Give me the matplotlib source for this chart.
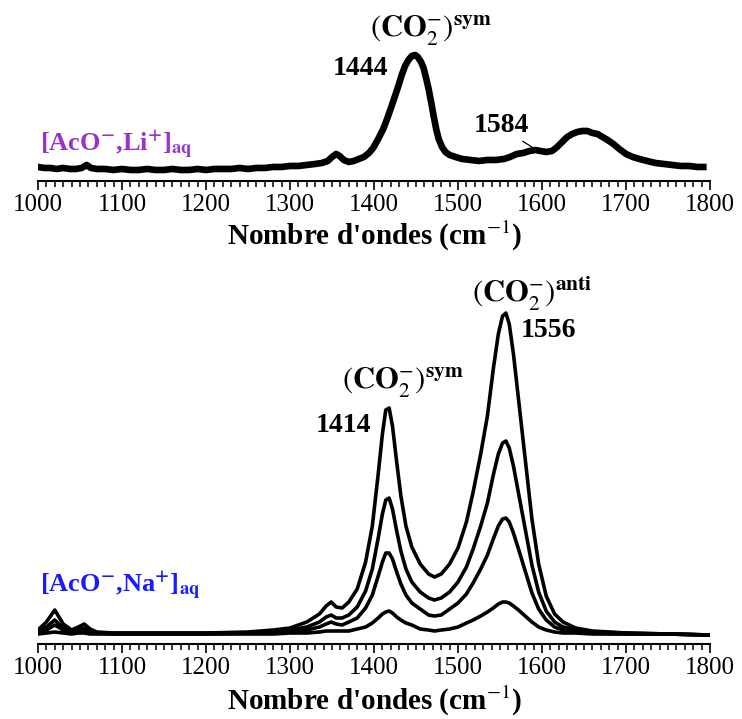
import matplotlib.pyplot as plt
from matplotlib.ticker import MultipleLocator

plt.rcParams['font.family'] = ['Liberation Serif', 'DejaVu Serif']
plt.rcParams['mathtext.fontset'] = 'stix'

# top panel: [AcO-,Li+]aq spectrum (arbitrary units)
li_wn = [1000, 1008, 1015, 1022, 1030, 1038, 1045, 1052, 1058, 1063, 1070, 1080,
         1090, 1100, 1110, 1120, 1130, 1140, 1150, 1160, 1170, 1180, 1190, 1200,
         1210, 1220, 1230, 1240, 1250, 1260, 1270, 1280, 1290, 1300, 1310, 1320,
         1330, 1338, 1345, 1350, 1355, 1359, 1364, 1370, 1376, 1382, 1388, 1394,
         1399, 1405, 1411, 1416, 1421, 1425, 1429, 1433, 1437, 1441, 1445, 1449,
         1452, 1456, 1459, 1462, 1465, 1468, 1471, 1474, 1477, 1481, 1485, 1490,
         1497, 1505, 1515, 1525, 1535, 1545, 1555, 1562, 1570, 1578, 1585, 1592,
         1598, 1605, 1612, 1618, 1624, 1630, 1636, 1642, 1648, 1654, 1660, 1666,
         1672, 1678, 1685, 1692, 1700, 1708, 1716, 1725, 1735, 1745, 1755, 1765,
         1775, 1785, 1792]
li_int = [14, 13, 13, 12, 13, 12, 12, 13, 16, 13, 12, 12,
          11, 12, 11, 11, 12, 11, 11, 12, 11, 11, 12, 11,
          12, 12, 12, 13, 12, 13, 13, 14, 14, 15, 15, 16,
          17, 18, 20, 24, 27, 25, 21, 19, 20, 22, 24, 28,
          33, 42, 52, 63, 75, 85, 95, 106, 115, 121, 125, 126,
          124, 119, 113, 103, 92, 79, 65, 52, 42, 34, 29, 26,
          24, 22, 21, 20, 21, 21, 22, 24, 27, 28, 30, 31,
          30, 29, 30, 34, 39, 44, 47, 49, 50, 50, 48, 47,
          44, 41, 37, 32, 27, 24, 22, 20, 18, 17, 16, 15,
          15, 14, 14]

# bottom panel: [AcO-,Na+]aq spectra, four concentrations
na_wn = [1000, 1010, 1020, 1030, 1040, 1048, 1055, 1062, 1070, 1090,
         1150, 1200, 1250, 1280, 1300, 1320, 1335, 1343, 1349, 1355,
         1362, 1370, 1380, 1390, 1398, 1405, 1410, 1414, 1418, 1422,
         1427, 1432, 1438, 1445, 1455, 1465, 1472, 1480, 1490, 1500,
         1510, 1518, 1527, 1535, 1542, 1548, 1553, 1557, 1561, 1566,
         1572, 1580, 1588, 1596, 1605, 1615, 1625, 1640, 1660, 1700,
         1750, 1800]
na_c1 = [14, 22, 34, 20, 14, 17, 20, 15, 12, 11,
         11, 11, 12, 14, 16, 22, 30, 38, 42, 37,
         36, 42, 55, 82, 118, 170, 210, 234, 236, 218,
         182, 148, 118, 97, 80, 70, 67, 70, 80, 96,
         122, 152, 190, 228, 275, 310, 328, 331, 320, 290,
         245, 185, 125, 80, 48, 30, 22, 16, 13, 11,
         10, 9]
na_c2 = [12, 17, 24, 16, 12, 14, 16, 13, 11, 11,
         11, 11, 11, 12, 14, 17, 22, 27, 29, 26,
         26, 29, 37, 53, 75, 106, 130, 144, 146, 135,
         113, 93, 75, 62, 52, 46, 44, 46, 52, 62,
         77, 95, 118, 141, 169, 190, 201, 203, 196, 178,
         151, 115, 79, 52, 33, 22, 17, 14, 12, 11,
         10, 9]
na_c3 = [11, 14, 19, 14, 11, 12, 14, 12, 11, 10,
         10, 10, 11, 11, 12, 14, 17, 20, 22, 20,
         19, 22, 26, 36, 49, 68, 82, 91, 91, 85,
         72, 60, 49, 41, 35, 29, 28, 29, 35, 41,
         50, 61, 75, 89, 105, 118, 125, 126, 122, 111,
         95, 73, 51, 35, 24, 17, 14, 12, 11, 10,
         10, 9]
na_c4 = [10, 11, 12, 11, 10, 11, 11, 10, 10, 10,
         10, 10, 10, 10, 11, 11, 12, 13, 13, 13,
         13, 13, 15, 17, 21, 26, 30, 32, 33, 31,
         27, 24, 21, 19, 15, 14, 13, 14, 15, 17,
         21, 24, 28, 32, 36, 40, 42, 42, 41, 38,
         34, 28, 22, 17, 14, 12, 11, 11, 10, 10,
         10, 9]

ticks = [1000, 1100, 1200, 1300, 1400, 1500, 1600, 1700, 1800]

fig = plt.figure(figsize=(7.42, 7.19), dpi=100)
ax1 = fig.add_axes([0.0512, 0.7483, 0.9057, 0.1961])
ax2 = fig.add_axes([0.0512, 0.1043, 0.9057, 0.4784])


def style(ax, ytop):
    ax.set_xlim(1000, 1800)
    ax.set_ylim(0, ytop)
    for s in ['top', 'right', 'left']:
        ax.spines[s].set_visible(False)
    ax.spines['bottom'].set_linewidth(1.5)
    ax.set_yticks([])
    ax.set_xticks(ticks)
    ax.xaxis.set_minor_locator(MultipleLocator(10))
    ax.tick_params(axis='x', which='major', direction='out', length=6.5,
                   width=1.2, labelsize=18, pad=3)
    ax.tick_params(axis='x', which='minor', direction='out', length=4.3, width=1.1)
    ax.patch.set_visible(False)


style(ax1, 141)
style(ax2, 344)

ax1.plot(li_wn, li_int, color='black', lw=4.8, solid_joinstyle='round')
for c in [na_c1, na_c2, na_c3, na_c4]:
    ax2.plot(na_wn, c, color='black', lw=2.6, solid_joinstyle='round')

xl = "Nombre d'ondes (cm$^{-1}$)"
ax1.text(0.5015, -0.39, xl, transform=ax1.transAxes, ha='center', va='center',
         fontsize=21, fontweight='bold')
ax2.text(0.5015, -0.165, xl, transform=ax2.transAxes, ha='center', va='center',
         fontsize=21, fontweight='bold')

sym = r'$(\mathbf{CO}_{2}^{-})^{\mathbf{sym}}$'
anti = r'$(\mathbf{CO}_{2}^{-})^{\mathbf{anti}}$'

# top annotations
ax1.text(1467, 150, sym, ha='center', va='center', fontsize=22, clip_on=False)
ax1.text(1384, 112, '1444', ha='center', va='center', fontsize=20, fontweight='bold')
ax1.annotate('1584', xy=(1588, 34), xytext=(1552, 55), ha='center', va='center',
             fontsize=20, fontweight='bold',
             arrowprops=dict(arrowstyle='-', lw=0.9, color='black',
                             relpos=(0.76, 0.05), shrinkA=0, shrinkB=0))
ax1.text(1002, 30, r'[AcO$^{\mathbf{-}}$,Li$^{\mathbf{+}}$]$_{\mathbf{aq}}$',
         ha='left', va='baseline', fontsize=19, fontweight='bold', color='#9933cc')

# bottom annotations
ax2.text(1588, 350, anti, ha='center', va='center', fontsize=22, clip_on=False)
ax2.text(1608, 314, '1556', ha='center', va='center', fontsize=20, fontweight='bold')
ax2.text(1434, 261, sym, ha='center', va='center', fontsize=22)
ax2.text(1364, 219, '1414', ha='center', va='center', fontsize=20, fontweight='bold')
ax2.text(1002, 52, r'[AcO$^{\mathbf{-}}$,Na$^{\mathbf{+}}$]$_{\mathbf{aq}}$',
         ha='left', va='baseline', fontsize=19, fontweight='bold', color='#1a1aff')

fig.savefig('out.png', dpi=100)
